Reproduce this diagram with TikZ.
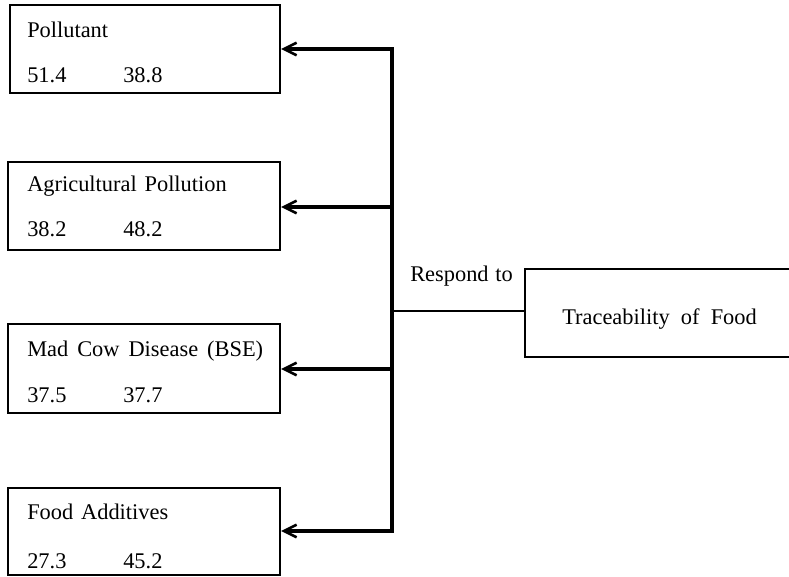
\documentclass[tikz,border=0pt]{standalone}
\usepackage{fontspec}
\setmainfont{Liberation Serif}
\usetikzlibrary{arrows.meta}
\begin{document}
\begin{tikzpicture}[x=0.75pt,y=-0.75pt,
  box/.style={draw,line width=1.7pt,rectangle,inner sep=0pt},
  lbl/.style={anchor=base west,inner sep=0pt,font=\fontsize{16.8}{19}\selectfont},
  trunk/.style={line width=2.8pt},
  arr/.style={line width=2.8pt,-{Straight Barb[length=9.5pt,width=9.5pt,line width=1.9pt]}},
  link/.style={line width=1.8pt}]
\useasboundingbox (0,0) rectangle (789,576);
% boxes
\node[box,minimum width=270*0.75pt,minimum height=88*0.75pt] (b1) at (145,49) {};
\node[box,minimum width=272*0.75pt,minimum height=88*0.75pt] (b2) at (144,206) {};
\node[box,minimum width=272*0.75pt,minimum height=89*0.75pt] (b3) at (144,368.5) {};
\node[box,minimum width=272*0.75pt,minimum height=87*0.75pt] (b4) at (144,531.5) {};
\node[box,minimum width=280*0.75pt,minimum height=88*0.75pt] (tr) at (665,313) {};
% texts
\node[lbl] (t1) at (27,37) {Pollutant};
\node[lbl] (n1a) at (27,82) {51.4};
\node[lbl] (n1b) at (123,82) {38.8};
\node[lbl] (t2) at (27,191) {Agricultural\hspace{0.35em}Pollution};
\node[lbl] (n2a) at (27,236) {38.2};
\node[lbl] (n2b) at (123,236) {48.2};
\node[lbl] (t3) at (27,356) {Mad\hspace{0.4em}Cow\hspace{0.4em}Disease\hspace{0.4em}(BSE)};
\node[lbl] (n3a) at (27,402) {37.5};
\node[lbl] (n3b) at (123,402) {37.7};
\node[lbl] (t4) at (27,519) {Food\hspace{0.35em}Additives};
\node[lbl] (n4a) at (27,568) {27.3};
\node[lbl] (n4b) at (123,568) {45.2};
\node[lbl] (resp) at (410,281) {Respond\hspace{0.3em}to};
\node[lbl] (ttr) at (562,324) {Traceability\hspace{0.5em}of\hspace{0.5em}Food};
% trunk
\coordinate (j1) at (392,49);
\coordinate (j2) at (392,207);
\coordinate (jt) at (392,311);
\coordinate (j3) at (392,369);
\coordinate (j4) at (392,531);
\draw[trunk,line cap=rect] (j1) -- (j4);
\draw[arr] (j1) -- (b1.east);
\draw[arr] (j2) -- (b2.east|-j2);
\draw[arr] (j3) -- (b3.east|-j3);
\draw[arr] (j4) -- (b4.east|-j4);
\draw[link] (jt) -- (tr.west|-jt);
\end{tikzpicture}
\end{document}
